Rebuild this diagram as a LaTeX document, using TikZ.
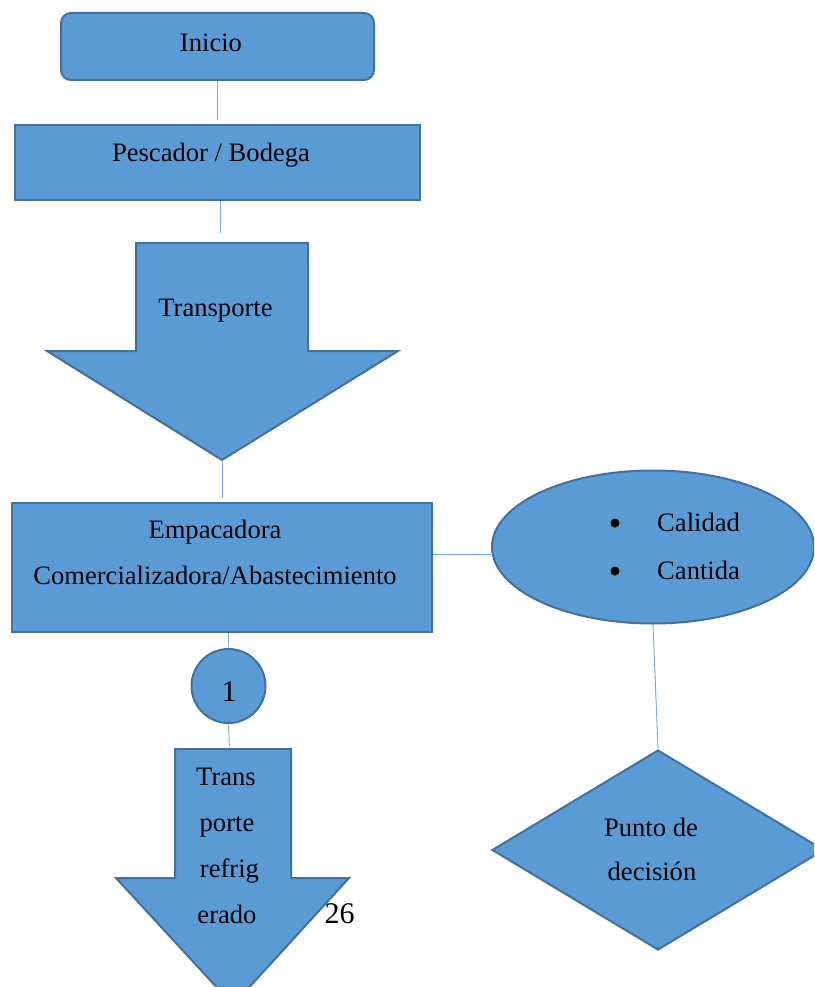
\documentclass[tikz,border=0pt]{standalone}
\usepackage{fontspec}
\setmainfont{Liberation Serif}
\usetikzlibrary{shapes.geometric}
\definecolor{fillblue}{HTML}{5B9BD5}
\definecolor{edgeblue}{HTML}{41719C}
\definecolor{lineblue}{HTML}{6FA8DC}
\begin{document}
\begin{tikzpicture}[x=1pt,y=-1pt,
  shapebox/.style={fill=fillblue,draw=edgeblue,line width=2pt,inner sep=0pt},
  conn/.style={draw=lineblue,line width=0.9pt},
  txt/.style={font=\fontsize{26.6}{46}\selectfont,inner sep=0pt,anchor=base},
  bigtxt/.style={font=\fontsize{30}{36}\selectfont,inner sep=0pt,anchor=base},
  dot/.style={circle,fill=black,inner sep=0pt,minimum size=9pt}]
\useasboundingbox (0,0) rectangle (814,987);
\clip (0,0) rectangle (814,987);

% shapes
\node[shapebox,rounded corners=10pt,minimum width=313pt,minimum height=67pt] (inicio) at (217.5,46.5) {};
\node[shapebox,minimum width=405pt,minimum height=75pt] (pescador) at (217.5,162.5) {};
\filldraw[fill=fillblue,draw=edgeblue,line width=2pt,line join=miter]
  (136,243) -- (308,243) -- (308,351) -- (398,351) -- (222,460) -- (47,351) -- (136,351) -- cycle;
\coordinate (trtop) at (220,243);
\coordinate (trtip) at (222,460);
\node[shapebox,minimum width=420pt,minimum height=129pt] (empac) at (222,567.5) {};
\node[shapebox,ellipse,minimum width=322pt,minimum height=153pt] (ell) at (653,547) {};
\node[shapebox,diamond,minimum width=332pt,minimum height=200pt] (dia) at (658,850) {};
\node[shapebox,circle,minimum size=74pt] (circ) at (228.5,686) {};
\filldraw[fill=fillblue,draw=edgeblue,line width=2pt,line join=miter]
  (175,749) -- (291,749) -- (291,878) -- (349,878) -- (233,1005) -- (116,878) -- (175,878) -- cycle;
\coordinate (ar2top) at (229.5,749);

% connectors
\draw[conn,shorten >=4pt] (inicio.south) -- (pescador.north);
\draw[conn,shorten >=10pt] (pescador.south -| trtop) -- (trtop);
\draw[conn,shorten >=4pt] (trtip) -- (empac.north);
\draw[conn,shorten >=1pt] (empac.south -| circ.north) -- (circ.north);
\draw[conn,shorten <=1pt,shorten >=3pt] (circ.south) -- (ar2top);
\draw[conn] ([yshift=13.5pt]empac.east) -- ([yshift=13.5pt]empac.east -| ell.west);
\draw[conn] (ell.south) -- (dia.north);

% texts
\node[txt] (tinicio) at (211,52) {Inicio};
\node[txt] (tpesc) at (211,162) {Pescador / Bodega};
\node[txt] (ttrans) at (215.5,316) {Transporte};
\node[txt] (temp1) at (215,538) {Empacadora};
\node[txt] (temp2) at (215,584) {Comercializadora/Abastecimiento};
\node[dot] (b1) at (615,523) {};
\node[dot] (b2) at (615,571) {};
\node[txt,anchor=base west] (tcal) at (657,531) {Calidad};
\node[txt,anchor=base west] (tcan) at (657,579) {Cantida};
\node[txt] (tpun) at (651,836) {Punto de};
\node[txt] (tdec) at (652,880) {decisión};
\node[bigtxt] (tone) at (229,701) {1};
\node[txt] (tr1) at (226,785) {Trans};
\node[txt] (tr2) at (227,831) {porte};
\node[txt] (tr3) at (229.5,877) {refrig};
\node[txt] (tr4) at (227,923) {erado};
\node[bigtxt] (tpage) at (339.5,923) {26};
\end{tikzpicture}
\end{document}
